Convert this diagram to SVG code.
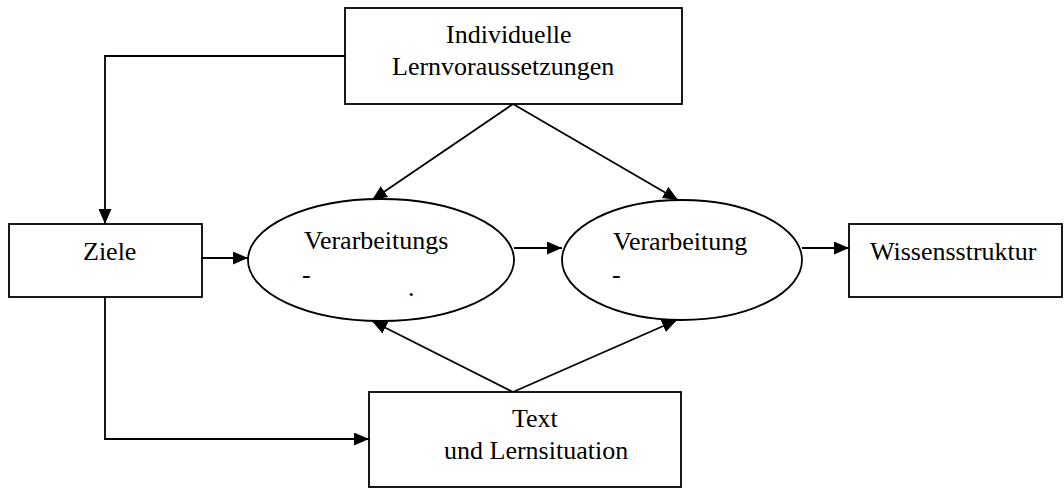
<svg xmlns="http://www.w3.org/2000/svg" width="1064" height="488" viewBox="0 0 1064 488">
<style>
.box{fill:#fff;stroke:#000;stroke-width:1.8}
.t{font-family:"Liberation Serif","Times New Roman",serif;font-size:26px;fill:#000}
.c{fill:none;stroke:#000;stroke-width:1.8;marker-end:url(#ah)}
</style>
<defs>
<marker id="ah" markerUnits="userSpaceOnUse" markerWidth="15" markerHeight="13" refX="15" refY="6.5" orient="auto">
<path d="M0,0 L15,6.5 L0,13 z" fill="#000"/>
</marker>
</defs>
<rect width="1064" height="488" fill="#fff"/>
<g id="connectors">
<path class="c" d="M345,56 L105,56 L105,224"/>
<path class="c" d="M513,104 L372,200"/>
<path class="c" d="M513,104 L678,200"/>
<path class="c" d="M202,258 L248,258"/>
<path class="c" d="M514,248 L562,248"/>
<path class="c" d="M802,248 L849,248"/>
<path class="c" d="M105,297 L105,439 L369,439"/>
<path class="c" d="M513,392 L372,321"/>
<path class="c" d="M513,392 L677,320"/>
</g>
<g id="lernvoraussetzungen">
<rect class="box" x="345" y="8" width="337" height="96"/>
<text class="t" x="446" y="43">Individuelle</text>
<text class="t" x="392" y="75">Lernvoraussetzungen</text>
</g>
<g id="ziele">
<rect class="box" x="9" y="224" width="193" height="73"/>
<text class="t" x="83" y="260">Ziele</text>
</g>
<g id="verarbeitungs">
<ellipse class="box" cx="381" cy="260" rx="133" ry="61"/>
<text class="t" x="304" y="249">Verarbeitungs</text>
<text class="t" x="302" y="283">-</text>
<text class="t" x="408" y="296">.</text>
</g>
<g id="verarbeitung">
<ellipse class="box" cx="682" cy="260" rx="120" ry="60"/>
<text class="t" x="613" y="250">Verarbeitung</text>
<text class="t" x="612" y="283">-</text>
</g>
<g id="wissensstruktur">
<rect class="box" x="849" y="224" width="213" height="73"/>
<text class="t" x="870" y="260">Wissensstruktur</text>
</g>
<g id="text">
<rect class="box" x="369" y="392" width="312" height="95"/>
<text class="t" x="512" y="427">Text</text>
<text class="t" x="444" y="459">und Lernsituation</text>
</g>
</svg>
